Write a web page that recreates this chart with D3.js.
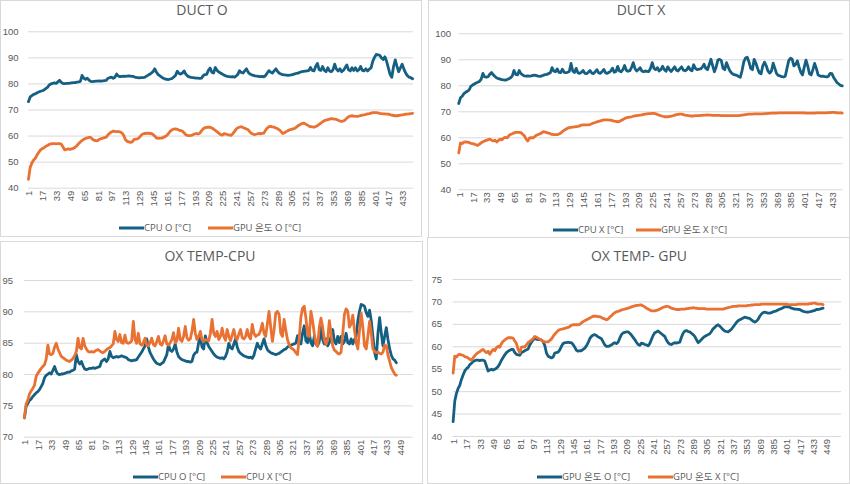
<!DOCTYPE html>
<html><head><meta charset="utf-8">
<script src="https://cdn.jsdelivr.net/npm/d3@7/dist/d3.min.js"></script>
<style>
body{margin:0;background:#fff;}
svg{display:block;font-family:"Open Sans","Noto Sans CJK KR",sans-serif;}
</style>
</head><body>
<svg id="c" width="850" height="484"></svg>
<script>
// category index of each sample (every second time step)
const cats = d3.range(1, 446, 2);

const cpuO = [
73.0,74.8,75.3,75.8,76.0,76.4,76.7,77.0,77.2,77.5,
78.0,78.5,79.4,79.8,80.0,80.2,80.0,80.6,81.2,80.4,
80.0,79.9,80.0,80.0,80.1,80.2,80.3,80.3,80.5,80.6,
80.8,83.1,82.0,81.6,82.0,81.3,80.8,80.7,80.8,80.9,
80.9,81.0,80.9,81.0,81.1,81.2,82.0,82.2,82.4,82.0,
82.4,83.6,82.8,82.6,82.7,82.8,82.7,82.8,82.9,82.8,
82.7,82.6,82.3,82.2,82.1,82.2,82.2,82.3,82.7,83.1,
83.5,84.0,84.5,85.6,84.3,83.4,82.9,82.4,82.0,81.7,
81.6,81.5,81.7,81.9,82.5,83.1,84.7,83.8,83.6,84.0,
84.8,83.5,82.8,82.5,82.3,82.2,82.1,82.0,82.0,81.9,
82.0,83.0,83.4,83.5,85.0,85.9,84.3,84.0,86.1,85.0,
84.4,84.0,83.6,83.2,82.9,82.7,82.6,82.5,82.6,82.4,
82.8,83.5,84.9,84.2,84.0,84.8,85.6,84.3,83.6,83.3,
83.1,82.9,82.8,82.7,82.6,82.7,82.5,83.0,84.0,84.9,
84.3,84.0,84.8,85.6,84.6,83.9,83.6,83.4,83.3,83.2,
83.1,83.2,83.3,83.5,83.7,83.9,84.0,84.3,84.5,84.6,
84.7,84.8,84.9,86.1,85.0,84.8,86.5,87.7,85.3,85.0,
86.5,85.0,84.5,86.0,84.8,84.5,85.2,87.4,85.5,84.8,
85.6,84.5,85.0,86.0,87.1,85.2,84.8,86.0,85.0,86.0,
84.8,85.2,86.5,85.0,84.8,85.6,84.8,85.5,86.0,88.5,
90.0,91.1,91.0,90.8,89.8,89.2,90.2,88.5,86.0,83.5,
82.4,86.5,89.0,86.5,84.5,86.0,87.4,85.5,84.0,83.0,
82.4,82.2,81.8];

const cpuX = [
73.0,75.2,75.8,76.8,77.3,77.7,78.2,79.6,80.1,80.5,
80.9,81.2,81.5,82.4,84.6,83.2,83.1,83.3,84.3,84.9,
84.0,83.4,82.8,82.6,82.4,82.2,82.1,82.0,82.2,82.5,
82.9,83.6,85.7,84.2,84.0,85.7,84.5,84.0,83.6,83.5,
83.6,83.5,83.6,83.8,83.9,83.7,83.5,83.4,83.6,83.9,
84.1,84.2,84.5,84.8,86.8,85.5,85.2,86.3,85.0,84.9,
86.2,85.0,84.9,85.0,85.3,88.4,85.5,84.9,86.5,84.8,
84.6,85.0,85.7,84.6,84.5,85.0,85.7,84.7,84.5,85.2,
86.0,84.8,84.6,85.3,86.1,84.8,84.6,85.0,85.5,86.6,
85.0,85.3,87.3,85.5,85.2,86.0,87.6,85.8,85.4,85.6,
86.8,88.7,86.5,85.5,86.0,86.8,85.5,85.2,85.5,85.4,
85.3,86.5,88.7,86.5,86.0,86.8,85.5,86.0,87.3,86.0,
85.4,87.1,86.0,85.3,86.2,87.1,85.8,85.5,86.4,87.1,
85.8,85.6,86.0,87.1,86.0,85.6,87.9,86.5,86.0,86.2,
86.3,87.0,88.1,86.5,86.0,88.0,90.0,87.5,85.2,87.0,
89.7,90.0,89.5,86.5,86.0,88.7,87.0,85.5,84.7,84.2,
84.0,83.8,83.4,83.1,85.7,89.0,90.5,90.8,89.0,86.5,
86.0,90.0,88.5,86.5,84.8,84.4,87.5,88.9,87.5,85.5,
84.7,85.5,88.5,86.5,84.5,83.8,83.6,83.3,83.2,83.5,
86.5,89.5,90.4,90.0,87.5,88.0,89.4,87.0,85.0,84.0,
87.0,89.7,87.5,84.5,84.0,86.0,88.4,86.5,84.0,83.6,
83.4,83.5,83.3,83.2,83.5,84.6,84.5,83.0,82.0,81.0,
80.5,80.0,79.8];

const gpuO = [
43.2,47.8,49.5,50.6,51.3,52.6,53.6,54.5,55.0,55.3,
55.9,56.2,56.6,56.8,56.9,56.9,56.8,56.9,56.9,56.7,
55.6,54.5,54.7,54.9,54.7,54.9,55.1,55.5,56.1,56.9,
57.5,58.1,58.6,58.9,59.1,59.3,59.3,58.6,58.2,58.1,
58.0,58.6,58.8,59.0,59.2,59.4,60.3,60.9,61.4,61.7,
61.6,61.5,61.5,61.4,61.0,60.2,58.5,57.8,57.6,57.4,
57.6,58.5,58.6,58.7,59.2,60.0,60.6,60.8,60.8,60.9,
60.8,60.8,60.4,59.8,59.1,58.9,59.0,59.0,59.3,59.6,
60.1,60.8,61.7,62.2,62.5,62.6,62.4,62.1,61.9,61.7,
61.0,60.3,60.0,60.0,60.1,60.3,60.6,60.8,60.6,60.9,
61.8,62.6,63.0,63.1,63.2,63.2,62.9,62.5,62.0,61.5,
60.9,60.4,60.2,60.7,60.6,60.4,60.3,60.1,60.6,61.5,
62.4,63.0,63.2,63.4,63.1,62.8,62.5,62.2,61.4,60.8,
60.5,60.4,60.6,60.8,60.7,60.8,60.9,62.0,62.9,63.4,
63.5,63.3,63.2,62.9,62.6,62.2,61.5,60.8,61.1,61.5,
61.9,62.2,62.4,62.6,62.8,63.3,63.9,64.2,64.6,64.8,
64.5,64.1,63.7,63.4,63.3,63.2,63.5,63.8,64.3,64.8,
65.3,65.7,65.9,66.1,66.3,66.5,66.4,66.3,66.2,65.9,
65.6,65.4,65.6,66.0,66.7,67.2,67.5,67.6,67.5,67.4,
67.4,67.5,67.7,67.8,67.9,68.1,68.3,68.4,68.6,68.8,
68.8,68.8,68.7,68.5,68.4,68.3,68.3,68.2,68.2,68.0,
67.8,67.7,67.6,67.6,67.7,67.8,67.9,68.0,68.2,68.2,
68.3,68.4,68.5];

const gpuX = [
54.0,57.8,57.6,58.1,58.2,58.1,58.0,57.7,57.6,57.4,
57.1,56.9,57.4,57.9,58.3,58.6,58.8,59.1,59.3,58.9,
58.6,58.9,58.2,58.8,59.3,59.0,59.7,60.0,59.8,60.6,
61.1,61.4,61.7,61.9,61.9,61.9,61.8,61.2,60.6,59.3,
58.6,59.8,59.9,59.8,60.3,60.8,61.1,61.4,61.7,62.2,
62.0,61.8,61.6,61.4,61.1,61.0,61.0,61.0,61.3,61.6,
62.2,62.7,63.1,63.5,63.7,63.8,63.9,64.0,64.1,64.2,
64.4,64.7,64.8,64.8,64.8,64.8,64.9,65.2,65.5,65.7,
65.9,66.1,66.3,66.5,66.7,66.7,66.7,66.6,66.6,66.4,
66.2,66.1,65.9,66.1,66.5,66.8,67.2,67.5,67.7,67.8,
67.9,68.1,68.2,68.3,68.4,68.5,68.6,68.8,68.9,69.0,
69.1,69.1,69.2,69.2,69.0,68.8,68.5,68.3,68.1,67.9,
67.9,67.9,68.0,68.1,68.3,68.5,68.7,68.8,68.9,68.9,
68.7,68.5,68.4,68.3,68.2,68.2,68.2,68.3,68.3,68.3,
68.4,68.4,68.5,68.5,68.6,68.5,68.5,68.4,68.4,68.4,
68.4,68.4,68.3,68.3,68.3,68.3,68.3,68.3,68.3,68.3,
68.3,68.3,68.3,68.4,68.5,68.6,68.7,68.8,68.9,68.9,
68.9,69.0,69.0,69.0,69.0,69.0,69.0,69.1,69.1,69.2,
69.2,69.3,69.3,69.3,69.3,69.4,69.4,69.4,69.4,69.4,
69.4,69.4,69.4,69.4,69.4,69.4,69.4,69.4,69.4,69.4,
69.4,69.3,69.3,69.3,69.3,69.3,69.3,69.4,69.4,69.4,
69.4,69.4,69.4,69.4,69.5,69.5,69.6,69.6,69.5,69.4,
69.4,69.4,69.3];

const xTicksTop = [1,17,33,49,65,81,97,113,129,145,161,177,193,209,225,241,257,273,289,305,321,337,353,369,385,401,417,433];
const xTicksBottom = [1,17,33,49,65,81,97,113,129,145,161,177,193,209,225,241,257,273,289,305,321,337,353,369,385,401,417,433,449];
const yTicksDuct = [40,50,60,70,80,90,100];
const yTicksCpu = [70,75,80,85,90,95];
const yTicksGpu = [40,45,50,55,60,65,70,75];

const BLUE = "#156082", ORANGE = "#E97132", TXT = "#595959", GRID = "#D9D9D9";

const panels = [
  {title:"DUCT O", tx:202, ty:15, L:28, R:413, T:31.3, B:187.7, n:445, yd:[40,100], yt:yTicksDuct, xt:xTicksTop, ylx:18.5,
   series:[{name:"CPU O [°C]", v:cpuO, c:BLUE},{name:"GPU 온도 O [°C]", v:gpuO, c:ORANGE}],
   leg:[{x:119,y:228},{x:208,y:228}], box:[0,0,422,237]},
  {title:"DUCT X", tx:641, ty:15, L:458.3, R:842.7, T:33.3, B:189.3, n:445, yd:[40,100], yt:yTicksDuct, xt:xTicksTop, ylx:451,
   series:[{name:"CPU X [°C]", v:cpuX, c:BLUE},{name:"GPU 온도 X [°C]", v:gpuX, c:ORANGE}],
   leg:[{x:553,y:230},{x:636,y:230}], box:[428,0,422,238]},
  {title:"OX TEMP-CPU", tx:210, ty:261, L:24, R:412.7, T:280, B:436.7, n:464, yd:[70,95], yt:yTicksCpu, xt:xTicksBottom, ylx:13,
   series:[{name:"CPU O [°C]", v:cpuO, c:BLUE},{name:"CPU X [°C]", v:cpuX, c:ORANGE}],
   leg:[{x:133,y:477},{x:221,y:477}], box:[0,241,423,243]},
  {title:"OX TEMP- GPU", tx:639, ty:261, L:452.7, R:841, T:279, B:436, n:466, yd:[40,75], yt:yTicksGpu, xt:xTicksBottom, ylx:442,
   series:[{name:"GPU 온도 O [°C]", v:gpuO, c:BLUE},{name:"GPU 온도 X [°C]", v:gpuX, c:ORANGE}],
   leg:[{x:537,y:477},{x:648,y:477}], box:[427,237,423,247]}
];

const svg = d3.select("#c");

panels.forEach(p => {
  const g = svg.append("g");
  g.append("rect").attr("x",p.box[0]+0.5).attr("y",p.box[1]+0.5).attr("width",p.box[2]-1).attr("height",p.box[3]-1)
    .attr("fill","#fff").attr("stroke",GRID).attr("stroke-width",1);

  const x = d3.scaleLinear().domain([0.5, p.n+0.5]).range([p.L, p.R]);
  const y = d3.scaleLinear().domain(p.yd).range([p.B, p.T]);

  // gridlines + y labels
  const yAxis = d3.axisLeft(y).tickValues(p.yt).tickSize(-(p.R-p.L)).tickPadding(0).tickFormat(d3.format("d"));
  const ya = g.append("g").attr("transform",`translate(${p.L},0)`).call(yAxis);
  ya.select(".domain").remove();
  ya.selectAll(".tick line").attr("stroke",GRID).attr("stroke-width",1);
  ya.selectAll(".tick text").attr("x", p.ylx - p.L).attr("fill",TXT).attr("font-size","9.5px").attr("text-anchor","end");

  // x labels (rotated)
  const xAxis = d3.axisBottom(x).tickValues(p.xt).tickSize(0).tickPadding(0);
  const xa = g.append("g").attr("transform",`translate(0,${p.B})`).call(xAxis);
  xa.select(".domain").remove();
  xa.selectAll(".tick text").attr("fill",TXT).attr("font-size","9.5px")
    .attr("text-anchor","end").attr("dy",null).attr("y",0)
    .attr("transform","translate(0,3) rotate(-90)").attr("dominant-baseline","central");

  // lines
  const line = d3.line().x((d,i)=>x(cats[i])).y(d=>y(d));
  p.series.forEach(s => {
    g.append("path").datum(s.v).attr("d",line).attr("fill","none")
      .attr("stroke",s.c).attr("stroke-width",2.8).attr("stroke-linejoin","round").attr("stroke-linecap","round");
  });

  // title
  g.append("text").attr("x",p.tx).attr("y",p.ty).attr("text-anchor","middle")
    .attr("fill",TXT).attr("font-size","14px").text(p.title);

  // legend
  p.series.forEach((s,i) => {
    const l = p.leg[i];
    g.append("line").attr("x1",l.x).attr("x2",l.x+25).attr("y1",l.y).attr("y2",l.y)
      .attr("stroke",s.c).attr("stroke-width",3);
    g.append("text").attr("x",l.x+25).attr("y",l.y).attr("dy","0.35em")
      .attr("fill",TXT).attr("font-size","9.5px").text(s.name);
  });
});
</script>
</body></html>
